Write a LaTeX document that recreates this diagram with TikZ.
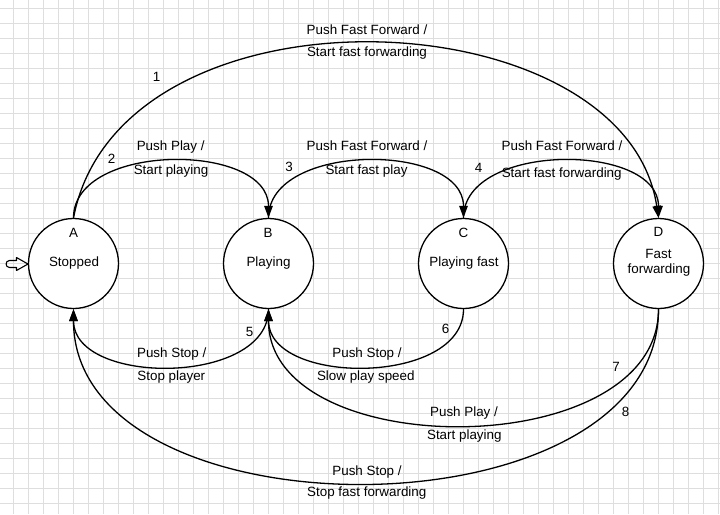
\documentclass[tikz,border=0pt]{standalone}
\usepackage{fontspec}
\setmainfont{Liberation Sans}
\usetikzlibrary{arrows.meta}
\definecolor{gridc}{RGB}{222,222,222}
\tikzset{
  state/.style={draw, circle, line width=1.3pt, minimum size=90pt, inner sep=0pt, fill=white},
  txt/.style={font=\fontsize{13.4}{15}\selectfont, inner sep=0pt, text height=9.5pt, text depth=2.5pt},
  trans/.style={line width=1.3pt, -{Triangle[width=8.5pt,length=12pt]}},
  gridline/.style={draw=gridc, line width=0.6pt}
}
\begin{document}
\begin{tikzpicture}[x=1pt,y=-1pt]
\useasboundingbox (0,0) rectangle (720,514);
\fill[white] (0,0) rectangle (720,514);
\foreach \gx in {13,28,...,718} \draw[gridline] (\gx,0) -- (\gx,514);
\foreach \gy in {8,23,...,503} \draw[gridline] (0,\gy) -- (720,\gy);

% states
\node[state] (A) at (73.5,263.5) {};
\node[state] (B) at (268.5,263.5) {};
\node[state] (C) at (463.5,263.5) {};
\node[state] (D) at (658.5,263.5) {};

\node[txt] (Al) at (73.5,233.5) {A};
\node[txt] (An) at (74,262.5) {Stopped};
\node[txt] (Bl) at (268,233.5) {B};
\node[txt] (Bn) at (268.5,262.5) {Playing};
\node[txt] (Cl) at (463.5,233.5) {C};
\node[txt] (Cn) at (464,262.5) {Playing fast};
\node[txt] (Dl) at (658.5,233) {D};
\node[txt] (Dn1) at (658.5,255) {Fast};
\node[txt] (Dn2) at (659,270) {forwarding};

% initial marker
\draw[line width=1.1pt, line join=round] (16.5,260.5) -- (16.5,257.5) -- (28,264) -- (16.5,270.5) -- (16.5,267.5) -- (9.5,267.5)
  .. controls (5,267.5) and (5,260.5) .. (9.5,260.5) -- cycle;

% transitions
\draw[trans] (A.north) .. controls (120,-25) and (625,-5) .. (D.north);
\draw[trans] (A.north) .. controls (73.5,142) and (268.5,142) .. (B.north);
\draw[trans] (B.north) .. controls (268.5,142) and (463.5,142) .. (C.north);
\draw[trans] (C.north) .. controls (463.5,142) and (658.5,142) .. (D.north);
\draw[trans] (B.south) .. controls (268.5,386) and (73.5,386) .. (A.south);
\draw[trans] (C.south) .. controls (463.5,386) and (268.5,386) .. (B.south);
\draw[trans] (D.south) .. controls (658.5,464) and (268.5,464) .. (B.south);
\draw[trans] (D.south) .. controls (658.5,541) and (73.5,541) .. (A.south);

% labels
\node[txt] (n1) at (156.7,78.3) {1};
\node[txt] (t1a) at (367,30.7) {Push Fast Forward /};
\node[txt] (t1b) at (367,53.3) {Start fast forwarding};
\node[txt] (n2) at (111.7,160) {2};
\node[txt] (t2a) at (170.7,146.7) {Push Play /};
\node[txt] (t2b) at (171,170.7) {Start playing};
\node[txt] (n3) at (289,168) {3};
\node[txt] (t3a) at (367,147.3) {Push Fast Forward /};
\node[txt] (t3b) at (366.5,170.7) {Start fast play};
\node[txt] (n4) at (478.7,169.3) {4};
\node[txt] (t4a) at (562,147.3) {Push Fast Forward /};
\node[txt] (t4b) at (561.7,174.3) {Start fast forwarding};
\node[txt] (n5) at (249.7,332.7) {5};
\node[txt] (t5a) at (171.7,354) {Push Stop /};
\node[txt] (t5b) at (171.3,376.7) {Stop player};
\node[txt] (n6) at (445.7,330) {6};
\node[txt] (t6a) at (367,354) {Push Stop /};
\node[txt] (t6b) at (365.8,376.7) {Slow play speed};
\node[txt] (n7) at (616,368.3) {7};
\node[txt] (t7a) at (464,413.3) {Push Play /};
\node[txt] (t7b) at (464.3,436) {Start playing};
\node[txt] (n8) at (625.7,413.3) {8};
\node[txt] (t8a) at (367,471.7) {Push Stop /};
\node[txt] (t8b) at (366.8,493.3) {Stop fast forwarding};
\end{tikzpicture}
\end{document}
